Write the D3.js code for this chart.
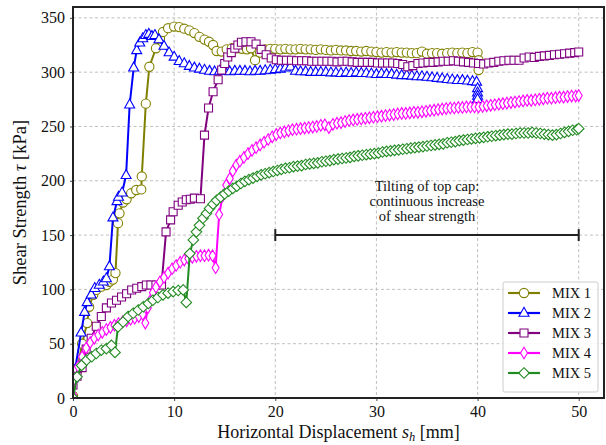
<!DOCTYPE html>
<html><head><meta charset="utf-8">
<script src="https://cdn.jsdelivr.net/npm/d3@7"></script>
<style>body{margin:0;background:#fff}svg{display:block}</style>
</head><body><svg id="c" width="606" height="445"></svg>
<script>
const xTicks=[0,10,20,30,40,50];
const yTicks=[0,50,100,150,200,250,300,350];
const seriesNames=["MIX 1","MIX 2","MIX 3","MIX 4","MIX 5"];
const seriesColors=["#808000","#0000ff","#800080","#ff00ff","#228b22"];
const seriesMarkers=["circle","triangle","square","thindiamond","diamond"];

const mix1=[[0,2],[0.4,25],[0.9,50],[1.4,69],[1.6,84],[2.0,95],[2.3,99.5],[2.8,102.5],[3.3,104],[3.6,107],[3.95,109],[4.2,115],[4.45,161],[4.6,170],[4.95,180],[5.3,183],[5.75,188.5],[6.25,191.5],[6.75,192],[6.8,204],[7.2,271],[7.55,305],[8.2,322],[8.6,331],[8.9,337],[9.4,340.5],[10.0,342],[10.5,341.5],[11.0,340],[11.5,338.5],[12.0,336],[12.5,332.5],[13.0,330],[13.45,328],[13.85,325],[14.2,319.5],[14.7,319],[15.2,321],[15.7,322],[16.2,322],[16.7,321.5],[17.2,321],[17.6,322],[18.0,311],[18.5,318],[19.0,321],[19.5,321.5],[20,321.5],[20.5,321],[21,321.5],[21.5,321],[22,321],[22.5,321.5],[23,321],[23.5,321],[24,320.5],[24.5,321],[25,320.5],[25.5,320],[26,320.5],[26.5,320],[27,320],[27.5,319.5],[28,319.5],[28.5,319],[29,319.5],[29.5,319],[30,318.5],[30.5,318],[31,318.5],[31.5,318],[32,318.5],[32.5,318],[33,318],[33.5,317.5],[34,317.5],[34.5,319],[35,317],[35.5,317.5],[36,317.5],[36.5,317],[37,317.5],[37.5,318],[38,317.5],[38.5,318],[39,317.5],[39.5,318.5],[40,318],[40.1,311],[40.1,302]];

const mix2=[[0,18],[0.2,26],[0.8,60],[1.15,79],[1.4,88],[1.8,95],[2.15,101],[2.6,104],[3.0,107],[3.3,110],[3.6,121],[3.95,166],[4.35,181],[4.5,185],[4.85,189],[5.25,205],[5.6,270],[6.0,304],[6.3,320],[6.6,327],[6.9,331],[7.2,334],[7.5,335],[7.8,333],[8.1,334],[8.5,330],[9.0,324],[9.5,318],[10.0,314],[10.5,310],[11.0,308],[11.5,305.5],[12.0,304],[12.5,303],[13.0,302],[13.5,301],[14,300.5],[14.5,301],[15,301],[15.5,300.5],[16,301],[16.5,301],[17,301],[17.5,300.5],[18,301],[18.5,301],[19,301.5],[19.5,302],[20,302.5],[20.5,303],[21,304],[21.5,305],[22,301],[22.5,300.5],[23,300.5],[23.5,300],[24,300],[24.5,300],[25,300],[25.5,299.5],[26,299.5],[26.5,299],[27,299.5],[27.5,299],[28,299.5],[28.5,299],[29,299],[29.5,298.5],[30,298],[30.5,298.5],[31,298],[31.5,298],[32,297.5],[32.5,297],[33,297],[33.5,296.5],[34,296],[34.5,296],[35,295.5],[35.5,295],[36,294.5],[36.5,294],[37,293.5],[37.5,293],[38,292.5],[38.5,292.5],[39,292],[39.5,291.5],[39.9,291],[40,285],[40,281],[40,278],[40,275]];

const mix3=[[0,12],[0.4,20],[0.9,28],[1.3,45],[1.8,55],[2.3,66],[2.8,75],[3.3,83],[3.8,87.5],[4.3,90],[4.8,93],[5.3,96],[5.8,99.5],[6.3,101],[6.8,102.5],[7.25,104],[7.7,104],[8.2,104],[8.75,104],[9.2,153],[9.65,164],[9.9,171.5],[10.4,177.5],[10.8,180.5],[11.2,182.5],[11.6,183],[12.0,184],[12.6,183.5],[13.0,242],[13.4,267],[13.85,282],[14.35,293],[14.7,302],[15.0,308],[15.3,314],[15.65,318],[16.0,322],[16.3,325],[16.65,327.5],[17.1,328],[17.6,328],[18.1,326],[18.6,321],[19.1,316],[19.6,313],[20.1,311.5],[20.6,311],[21.1,311],[21.6,311],[22.1,310.5],[22.6,310.5],[23.1,310.5],[23.6,310],[24.1,310],[24.6,310],[25.1,310],[25.6,310],[26.1,309.5],[26.6,310],[27.1,310],[27.6,309.5],[28.1,309],[28.6,309],[29.1,309],[29.6,309],[30.1,308.5],[30.6,308.5],[31.1,308.5],[31.6,308.5],[32.1,308],[32.6,307],[33.1,305],[33.6,306],[34.1,308],[34.6,308.5],[35.1,309],[35.6,309],[36.1,309.5],[36.6,310],[37.1,310],[37.6,310.5],[38.1,310],[38.6,309.5],[39.1,309],[39.6,308.5],[40.1,308],[40.6,307.5],[41.1,308.5],[41.6,309],[42.1,310],[42.6,310.5],[43.1,311],[43.6,311],[44.1,311],[44.6,313],[45.1,314],[45.6,313.5],[46.1,314.5],[46.6,315],[47.1,315.5],[47.6,316],[48.1,316.5],[48.6,317],[49.1,317.5],[49.6,318],[50,318.5]];

const mix4=[[0,3],[0.2,17],[0.5,29],[0.9,38],[1.3,46],[1.7,51],[2.1,55],[2.5,58],[2.9,60.5],[3.3,63],[3.7,65],[4.1,67],[4.5,68.5],[4.9,70],[5.3,71],[5.7,72.5],[6.1,73.5],[6.5,75],[6.9,77],[7.15,69],[7.4,83],[7.6,89],[7.9,97],[8.2,102],[8.6,107],[9.0,111],[9.4,115],[9.8,119],[10.2,122],[10.6,125],[11.0,127],[11.4,128.5],[11.8,129.5],[12.2,130.5],[12.6,131],[13.0,131],[13.4,131.5],[13.8,131],[14.1,120],[14.45,169],[14.8,186],[15.15,196],[15.5,202],[15.8,209],[16.15,214.5],[16.5,218],[16.9,221.5],[17.3,225],[17.7,228],[18.1,230.5],[18.5,233],[18.9,235.5],[19.3,238],[19.7,240.5],[20.1,242.5],[20.5,244],[20.9,245],[21.3,246],[21.7,247],[22.1,247.5],[22.5,248],[22.9,248.5],[23.3,249],[23.7,249.5],[24.1,250],[24.5,251],[24.9,251.5],[25.3,249],[25.7,252],[26.1,253],[26.5,253.5],[26.9,254.5],[27.3,255.5],[27.7,256],[28.1,256.5],[28.5,257],[28.9,257.5],[29.3,258],[29.7,258.5],[30.1,259],[30.5,259.5],[30.9,260],[31.3,260.5],[31.7,261],[32.1,261.5],[32.5,262],[32.9,262],[33.3,262.5],[33.7,263],[34.1,263],[34.5,263.5],[34.9,264],[35.3,264.5],[35.7,265],[36.1,265.5],[36.5,266],[36.9,266.5],[37.3,267],[37.7,267],[38.1,267.5],[38.5,267.5],[38.9,268],[39.3,268],[39.7,268],[40.1,268],[40.5,268.5],[40.9,269],[41.3,269.5],[41.7,270],[42.1,270.5],[42.5,271],[42.9,271.5],[43.3,272],[43.7,272.5],[44.1,273],[44.5,273.5],[44.9,274],[45.3,274],[45.7,274.5],[46.1,275],[46.5,275.5],[46.9,276],[47.3,276],[47.7,276.5],[48.1,277],[48.5,277],[48.9,277.5],[49.3,278],[49.7,278],[50,278.5]];

const mix5=[[0,0],[0.4,19.5],[0.85,30],[1.35,35],[1.85,38],[2.3,41],[2.8,44],[3.3,45.5],[3.8,48.5],[4.15,42],[4.45,65.5],[4.95,70],[5.45,75],[5.95,78],[6.45,81],[6.95,84],[7.45,87],[7.9,90],[8.4,92.5],[8.9,95],[9.4,96.5],[9.9,98],[10.4,99],[10.9,99.5],[11.2,88],[11.55,133],[11.9,145.5],[12.2,153],[12.5,159],[12.85,165.5],[13.2,170],[13.5,174.5],[13.85,178.5],[14.2,182],[14.6,185],[15.0,188],[15.4,190.5],[15.8,193],[16.2,195],[16.6,197.5],[17.0,199.5],[17.4,201],[17.8,202.5],[18.2,204],[18.6,205.5],[19.0,206.5],[19.4,207.5],[19.8,208.5],[20.2,209.5],[20.6,210.5],[21.0,211.5],[21.4,212],[21.8,213],[22.2,213.5],[22.6,214],[23.0,215],[23.4,215.5],[23.8,216],[24.2,216.5],[24.6,217.5],[25.0,218],[25.4,218.5],[25.8,219.5],[26.2,220],[26.6,220.5],[27.0,221],[27.4,221.5],[27.8,222.5],[28.2,223],[28.6,223.5],[29.0,224],[29.4,224.5],[29.8,225],[30.2,225.5],[30.6,226.5],[31.0,227],[31.4,227.5],[31.8,228],[32.2,228.5],[32.6,229],[33.0,229.5],[33.4,230],[33.8,230.5],[34.2,231],[34.6,231.5],[35.0,232],[35.4,232.5],[35.8,233],[36.2,233.5],[36.6,234],[37.0,235],[37.4,235.5],[37.8,236],[38.2,237],[38.6,237.5],[39.0,238],[39.4,238.5],[39.8,239],[40.2,239.5],[40.6,240],[41.0,240.5],[41.4,241],[41.8,241.5],[42.2,242],[42.6,242.5],[43.0,243],[43.4,243],[43.8,243.5],[44.2,244],[44.6,244],[45.0,244],[45.4,244.5],[45.8,244],[46.2,243.5],[46.6,243],[47.0,242.5],[47.4,242],[47.8,242.5],[48.2,243.5],[48.6,244.5],[49.0,245.5],[49.4,246.5],[49.8,247],[50,248]];

const annotationLines=["Tilting of top cap:","continuous increase","of shear strength"];
const bracketRange=[20,50];
const bracketLevel=150;

const allSeries=[mix1,mix2,mix3,mix4,mix5];
const m={l:73,r:604,t:7,b:398};
const FONT="'Liberation Serif','Times New Roman',serif";
const svg=d3.select("#c");
const x=d3.scaleLinear().domain([0,52.5]).range([m.l,m.r]);
const y=d3.scaleLinear().domain([0,360]).range([m.b,m.t]);

// grid
const g=svg.append("g");
g.selectAll("line.gx").data(xTicks).join("line")
 .attr("x1",d=>x(d)).attr("x2",d=>x(d)).attr("y1",m.t).attr("y2",m.b)
 .attr("stroke","#b0b0b0").attr("stroke-width",0.8).attr("stroke-dasharray","3,2.5");
g.selectAll("line.gy").data(yTicks).join("line")
 .attr("y1",d=>y(d)).attr("y2",d=>y(d)).attr("x1",m.l).attr("x2",m.r)
 .attr("stroke","#b0b0b0").attr("stroke-width",0.8).attr("stroke-dasharray","3,2.5");

// axes
const xa=svg.append("g").attr("transform",`translate(0,${m.b})`)
 .call(d3.axisBottom(x).tickValues(xTicks).tickSize(3).tickPadding(5));
const ya=svg.append("g").attr("transform",`translate(${m.l},0)`)
 .call(d3.axisLeft(y).tickValues(yTicks).tickSize(3).tickPadding(5));
[xa,ya].forEach(a=>{a.select(".domain").remove();
 a.selectAll("line").attr("stroke","#444");
 a.selectAll("text").attr("font-family",FONT).attr("font-size",16).attr("fill","#111");});
xa.selectAll("text").attr("dy","0.7em");

// markers
const markerPaths={
 circle:"M4.6,0A4.6,4.6,0,1,1,-4.6,0A4.6,4.6,0,1,1,4.6,0Z",
 triangle:"M0,-5.7L5,3.2L-5,3.2Z",
 square:"M-4,-4L4,-4L4,4L-4,4Z",
 thindiamond:"M0,-5.8L3.5,0L0,5.8L-3.5,0Z",
 diamond:"M0,-5.3L5.3,0L0,5.3L-5.3,0Z"
};
function mp(t){return markerPaths[t];}

svg.append("clipPath").attr("id","pc").append("rect")
 .attr("x",m.l).attr("y",m.t).attr("width",m.r-m.l).attr("height",m.b-m.t);
const line=d3.line().x(d=>x(d[0])).y(d=>y(d[1]));
const plot=svg.append("g").attr("clip-path","url(#pc)");
allSeries.forEach((s,i)=>{
 const sg=plot.append("g");
 sg.append("path").attr("d",line(s)).attr("fill","none")
  .attr("stroke",seriesColors[i]).attr("stroke-width",2).attr("stroke-linejoin","round");
 sg.selectAll("path.mk").data(s).join("path").attr("class","mk")
  .attr("transform",d=>`translate(${x(d[0])},${y(d[1])})`)
  .attr("d",mp(seriesMarkers[i])).attr("fill","#fff")
  .attr("stroke",seriesColors[i]).attr("stroke-width",1.1);
});

// bracket annotation
const bk=svg.append("g").attr("stroke","#222").attr("stroke-width",2);
bk.append("line").attr("x1",x(bracketRange[0])).attr("x2",x(bracketRange[1]))
 .attr("y1",y(bracketLevel)).attr("y2",y(bracketLevel));
bracketRange.forEach(v=>bk.append("line").attr("x1",x(v)).attr("x2",x(v))
 .attr("y1",y(bracketLevel)-6).attr("y2",y(bracketLevel)+6));
const cx=x((bracketRange[0]+bracketRange[1])/2);
svg.append("g").selectAll("text").data(annotationLines).join("text")
 .attr("x",cx).attr("y",(d,i)=>191+i*15).attr("text-anchor","middle")
 .attr("font-family",FONT).attr("font-size",14.5).attr("fill","#111").text(d=>d);

// frame
svg.append("rect").attr("x",m.l).attr("y",m.t).attr("width",m.r-m.l).attr("height",m.b-m.t)
 .attr("fill","none").attr("stroke","#222").attr("stroke-width",2);

// legend
const lg=svg.append("g").attr("transform","translate(503,282)");
lg.append("rect").attr("width",95).attr("height",110).attr("rx",2)
 .attr("fill","#fff").attr("fill-opacity",0.85).attr("stroke","#ccc").attr("stroke-width",1);
seriesNames.forEach((n,i)=>{
 const yy=11+i*20;
 lg.append("line").attr("x1",5).attr("x2",37).attr("y1",yy).attr("y2",yy)
  .attr("stroke",seriesColors[i]).attr("stroke-width",2.2);
 lg.append("path").attr("transform",`translate(21,${yy})`).attr("d",mp(seriesMarkers[i]))
  .attr("fill","#fff").attr("stroke",seriesColors[i]).attr("stroke-width",1.1);
 lg.append("text").attr("x",49).attr("y",yy+5).attr("font-family",FONT)
  .attr("font-size",14.5).attr("fill","#111").text(n);
});

// axis labels
const xl=svg.append("text").attr("x",(m.l+m.r)/2).attr("y",438).attr("text-anchor","middle")
 .attr("font-family",FONT).attr("font-size",18).attr("fill","#111");
xl.append("tspan").text("Horizontal Displacement ");
xl.append("tspan").attr("font-style","italic").text("s");
xl.append("tspan").attr("font-style","italic").attr("font-size",12.5).attr("dy",3).text("h");
xl.append("tspan").attr("dy",-3).text(" [mm]");
const yl=svg.append("text").attr("transform",`translate(26,${(m.t+m.b)/2}) rotate(-90)`)
 .attr("text-anchor","middle").attr("font-family",FONT).attr("font-size",18.5).attr("fill","#111");
yl.append("tspan").text("Shear Strength ");
yl.append("tspan").attr("font-style","italic").text("τ");
yl.append("tspan").text(" [kPa]");
</script></body></html>
